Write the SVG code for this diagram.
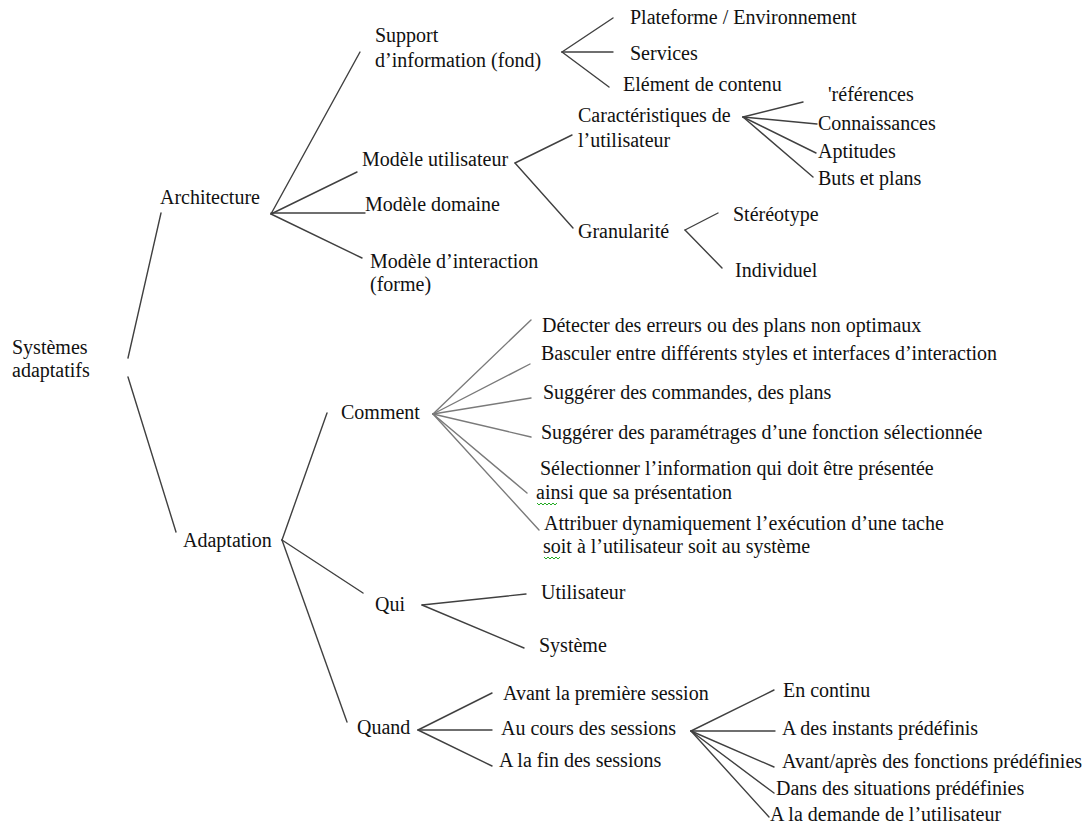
<svg xmlns="http://www.w3.org/2000/svg" width="1085" height="830" viewBox="0 0 1085 830">
<style>
text{font-family:"Liberation Serif","Times New Roman",serif;font-size:20px;fill:#111}
.c line{stroke:#404040;stroke-width:1.4;stroke-linecap:round}
.c .g{stroke:#7a7a7a}
.sq{fill:none;stroke:#22aa22;stroke-width:1}
</style>
<rect width="1085" height="830" fill="#fff"/>
<g id="connectors" class="c">
<line x1="128" y1="358" x2="161" y2="213"/>
<line x1="128" y1="377" x2="176" y2="532"/>
<line x1="271" y1="214" x2="360" y2="52"/>
<line x1="271" y1="214" x2="357" y2="172"/>
<line x1="271" y1="213" x2="365" y2="213"/>
<line x1="271" y1="214" x2="362" y2="258"/>
<line x1="562" y1="52" x2="613" y2="18"/>
<line x1="562" y1="52" x2="613" y2="52"/>
<line x1="562" y1="52" x2="609" y2="87"/>
<line x1="515" y1="163" x2="572" y2="135"/>
<line x1="515" y1="163" x2="573" y2="228"/>
<line x1="743" y1="117" x2="803" y2="102"/>
<line x1="743" y1="117" x2="817" y2="124"/>
<line x1="743" y1="117" x2="816" y2="153"/>
<line x1="743" y1="117" x2="813" y2="177"/>
<line x1="685" y1="230" x2="718" y2="213"/>
<line x1="685" y1="230" x2="722" y2="268"/>
<line x1="282" y1="540" x2="327" y2="413"/>
<line x1="282" y1="540" x2="363" y2="593"/>
<line x1="282" y1="540" x2="347" y2="722"/>
<line class="g" x1="433" y1="414" x2="531" y2="320"/>
<line class="g" x1="433" y1="414" x2="530" y2="364"/>
<line class="g" x1="433" y1="414" x2="531" y2="398"/>
<line class="g" x1="433" y1="414" x2="531" y2="437"/>
<line class="g" x1="433" y1="414" x2="527" y2="493"/>
<line class="g" x1="433" y1="414" x2="539" y2="530"/>
<line x1="422" y1="605" x2="526" y2="594"/>
<line x1="422" y1="605" x2="524" y2="648"/>
<line x1="418" y1="730" x2="492" y2="693"/>
<line x1="418" y1="730" x2="492" y2="730"/>
<line x1="418" y1="730" x2="492" y2="766"/>
<line x1="691" y1="731" x2="774" y2="690"/>
<line x1="691" y1="731" x2="775" y2="731"/>
<line x1="691" y1="731" x2="774" y2="767"/>
<line x1="691" y1="731" x2="774" y2="793"/>
<line x1="691" y1="731" x2="769" y2="817"/>
</g>
<g id="n-systemes"><text x="12" y="354">Systèmes</text><text x="12" y="377">adaptatifs</text></g>
<g id="n-architecture"><text x="160" y="204">Architecture</text></g>
<g id="n-adaptation"><text x="183" y="547">Adaptation</text></g>
<g id="n-support"><text x="375" y="42">Support</text><text x="375" y="67">d’information (fond)</text></g>
<g id="n-modele-utilisateur"><text x="362" y="166">Modèle utilisateur</text></g>
<g id="n-modele-domaine"><text x="365" y="211">Modèle domaine</text></g>
<g id="n-modele-interaction"><text x="370" y="268">Modèle d’interaction</text><text x="370" y="291">(forme)</text></g>
<g id="n-plateforme"><text x="630" y="24">Plateforme / Environnement</text></g>
<g id="n-services"><text x="630" y="60">Services</text></g>
<g id="n-element"><text x="623" y="91">Elément de contenu</text></g>
<g id="n-caracteristiques"><text x="578" y="122">Caractéristiques de</text><text x="578" y="147">l’utilisateur</text></g>
<g id="n-granularite"><text x="578" y="238">Granularité</text></g>
<g id="n-preferences"><text x="828" y="101">'références</text></g>
<g id="n-connaissances"><text x="818" y="130">Connaissances</text></g>
<g id="n-aptitudes"><text x="818" y="158">Aptitudes</text></g>
<g id="n-buts"><text x="818" y="185">Buts et plans</text></g>
<g id="n-stereotype"><text x="733" y="221">Stéréotype</text></g>
<g id="n-individuel"><text x="735" y="277">Individuel</text></g>
<g id="n-comment"><text x="341" y="419">Comment</text></g>
<g id="n-detecter"><text x="542" y="332">Détecter des erreurs ou des plans non optimaux</text></g>
<g id="n-basculer"><text x="541" y="360">Basculer entre différents styles et interfaces d’interaction</text></g>
<g id="n-suggerer-cmd"><text x="543" y="399">Suggérer des commandes, des plans</text></g>
<g id="n-suggerer-param"><text x="541" y="439">Suggérer des paramétrages d’une fonction sélectionnée</text></g>
<g id="n-selectionner"><text x="540" y="475">Sélectionner l’information qui doit être présentée</text><text x="536" y="499">ainsi que sa présentation</text>
<polyline class="sq" points="537,503 539,505 541,503 543,505 545,503 547,505 549,503 551,505 553,503 555,505 557,503"/></g>
<g id="n-attribuer"><text x="544" y="530">Attribuer dynamiquement l’exécution d’une tache</text><text x="543" y="553">soit à l’utilisateur soit au système</text>
<polyline class="sq" points="544,557 546,559 548,557 550,559 552,557 554,559 556,557 558,559 560,557"/></g>
<g id="n-qui"><text x="375" y="611">Qui</text></g>
<g id="n-utilisateur"><text x="541" y="599">Utilisateur</text></g>
<g id="n-systeme"><text x="539" y="652">Système</text></g>
<g id="n-quand"><text x="357" y="734">Quand</text></g>
<g id="n-avant-premiere"><text x="503" y="700">Avant la première session</text></g>
<g id="n-au-cours"><text x="501" y="735">Au cours des sessions</text></g>
<g id="n-fin"><text x="499" y="767">A la fin des sessions</text></g>
<g id="n-continu"><text x="783" y="697">En continu</text></g>
<g id="n-instants"><text x="782" y="735">A des instants prédéfinis</text></g>
<g id="n-fonctions"><text x="782" y="768">Avant/après des fonctions prédéfinies</text></g>
<g id="n-situations"><text x="776" y="795">Dans des situations prédéfinies</text></g>
<g id="n-demande"><text x="770" y="821">A la demande de l’utilisateur</text></g>
</svg>
